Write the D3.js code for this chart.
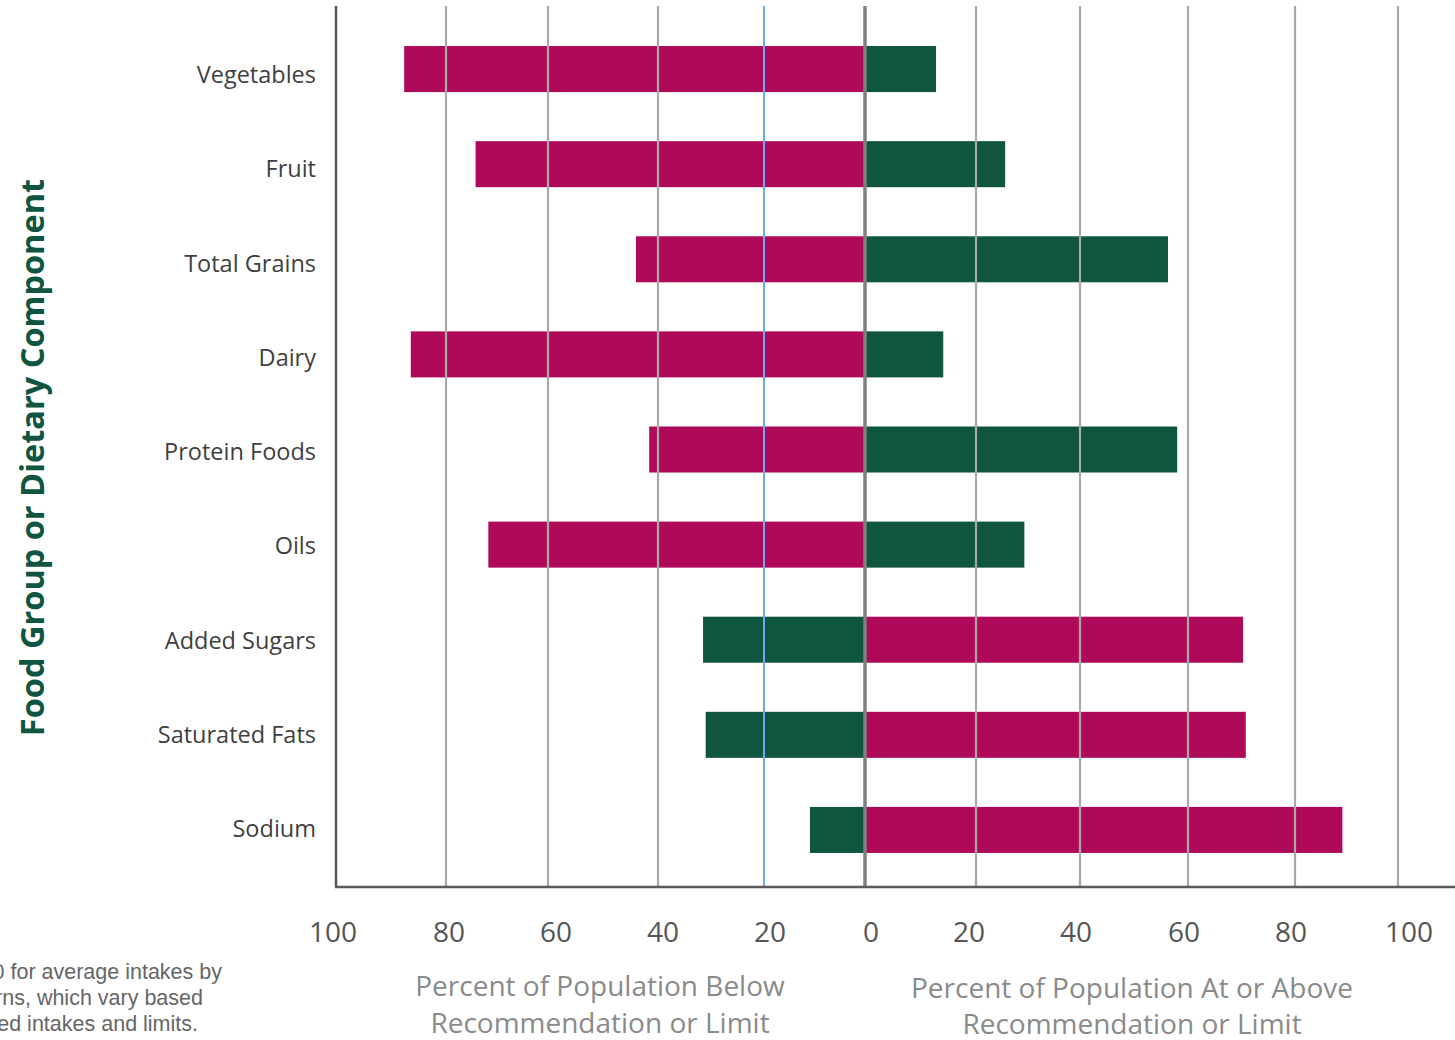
<!DOCTYPE html>
<html><head><meta charset="utf-8">
<script src="https://cdn.jsdelivr.net/npm/d3@7"></script>
<style>body{margin:0;background:#fff;} svg{display:block;}</style>
</head><body>
<svg id="c" width="1455" height="1040"></svg>
<script>
const categories = ["Vegetables","Fruit","Total Grains","Dairy","Protein Foods","Oils","Added Sugars","Saturated Fats","Sodium"];
const belowValues = [87.6, 74.2, 44, 86.4, 41.6, 71.7, 31.5, 31, 10.9];
const atOrAboveValues = [12.8, 25.6, 56.3, 14.1, 58, 29.3, 70.3, 70.8, 89.2];
const limitCategories = ["Added Sugars","Saturated Fats","Sodium"];
const leftTicks = [100, 80, 60, 40, 20, 0];
const rightTicks = [20, 40, 60, 80, 100];
const footnoteLines = ["0 for average intakes by","rns, which vary based","ed intakes and limits."];

(function(){
const magenta = "#AF0A59", green = "#0F553F";
const svg = d3.select("#c");
// piecewise scales matching the drawn gridline spacing of the original figure
const xL = d3.scaleLinear().domain([100, 80, 60, 40, 20, 0]).range([336, 446, 548, 658, 764, 865]);
const xR = d3.scaleLinear().domain([0, 20, 40, 60, 80, 100]).range([865, 976, 1080, 1188, 1295, 1398]);
const y = d3.scaleBand().domain(categories).range([21.5, 877.5]).paddingInner(0.516).paddingOuter(0.258);
const yLab = d3.scalePoint().domain(categories).range([75, 829]);
const yTop = 6, yBot = 887;

const rows = categories.map((c, i) => ({c, below: belowValues[i], above: atOrAboveValues[i], limit: limitCategories.includes(c)}));
svg.append("g").selectAll("rect").data(rows).join("rect")
  .attr("x", d => xL(d.below)).attr("width", d => xL(0) - xL(d.below))
  .attr("y", d => y(d.c)).attr("height", y.bandwidth())
  .attr("fill", d => d.limit ? green : magenta);
svg.append("g").selectAll("rect").data(rows).join("rect")
  .attr("x", xR(0)).attr("width", d => xR(d.above) - xR(0))
  .attr("y", d => y(d.c)).attr("height", y.bandwidth())
  .attr("fill", d => d.limit ? magenta : green);

const g = svg.append("g");
g.append("g").selectAll("line").data([80, 60, 40]).join("line")
  .attr("x1", d => xL(d)).attr("x2", d => xL(d)).attr("y1", yTop).attr("y2", yBot)
  .attr("stroke", "#a9a9a9").attr("stroke-width", 2.2);
g.append("g").selectAll("line").data(rightTicks).join("line")
  .attr("x1", d => xR(d)).attr("x2", d => xR(d)).attr("y1", yTop).attr("y2", yBot)
  .attr("stroke", "#a9a9a9").attr("stroke-width", 2.2);
g.append("line").attr("x1", xL(20)).attr("x2", xL(20)).attr("y1", yTop).attr("y2", yBot)
  .attr("stroke", "#6ea8f2").attr("stroke-width", 2);
g.append("line").attr("x1", xL(0)).attr("x2", xL(0)).attr("y1", yTop).attr("y2", yBot)
  .attr("stroke", "#808080").attr("stroke-width", 3.5);
g.append("line").attr("x1", xL(100)).attr("x2", xL(100)).attr("y1", yTop).attr("y2", yBot)
  .attr("stroke", "#555").attr("stroke-width", 2.5);
g.append("line").attr("x1", xL(100) - 1).attr("x2", 1455).attr("y1", yBot).attr("y2", yBot)
  .attr("stroke", "#5a5a5a").attr("stroke-width", 2.5);

svg.append("g").selectAll("text").data(categories).join("text")
  .attr("x", 316).attr("y", d => yLab(d))
  .attr("dy", "0.35em").attr("text-anchor", "end")
  .attr("font-family", "Open Sans").attr("font-size", 23.5).attr("fill", "#3f3f3f")
  .text(d => d);

const tf = "Open Sans";
const leftNudge = [-3, 3, 8, 5, 6, 6];
const rightNudge = [-7, -4, -4, -4, 11];
svg.append("g").selectAll("text").data(leftTicks).join("text")
  .attr("x", (d, i) => xL(d) + leftNudge[i]).attr("y", 942).attr("text-anchor", "middle")
  .attr("font-family", tf).attr("font-size", 28).attr("fill", "#555").text(d => d);
svg.append("g").selectAll("text").data(rightTicks).join("text")
  .attr("x", (d, i) => xR(d) + rightNudge[i]).attr("y", 942).attr("text-anchor", "middle")
  .attr("font-family", tf).attr("font-size", 28).attr("fill", "#555").text(d => d);

const at = svg.append("g").attr("font-family", tf).attr("font-size", 28).attr("fill", "#8a8a8a").attr("text-anchor", "middle");
at.append("text").attr("x", 600).attr("y", 996).text("Percent of Population Below");
at.append("text").attr("x", 600).attr("y", 1033).text("Recommendation or Limit");
at.append("text").attr("x", 1132).attr("y", 998).text("Percent of Population At or Above");
at.append("text").attr("x", 1132).attr("y", 1034).text("Recommendation or Limit");

svg.append("text").attr("transform", "translate(44,457.5) rotate(-90)")
  .attr("text-anchor", "middle").attr("font-family", "Open Sans").attr("font-weight", "bold")
  .attr("font-size", 32.5).attr("fill", green).text("Food Group or Dietary Component");

svg.append("g").selectAll("text").data(footnoteLines).join("text")
  .attr("x", (d, i) => [222, 203, 198][i]).attr("y", (d, i) => 979 + i * 26)
  .attr("text-anchor", "end")
  .attr("font-family", "Liberation Sans").attr("font-size", 21.5).attr("fill", "#666").text(d => d);
})();
</script>
</body></html>
